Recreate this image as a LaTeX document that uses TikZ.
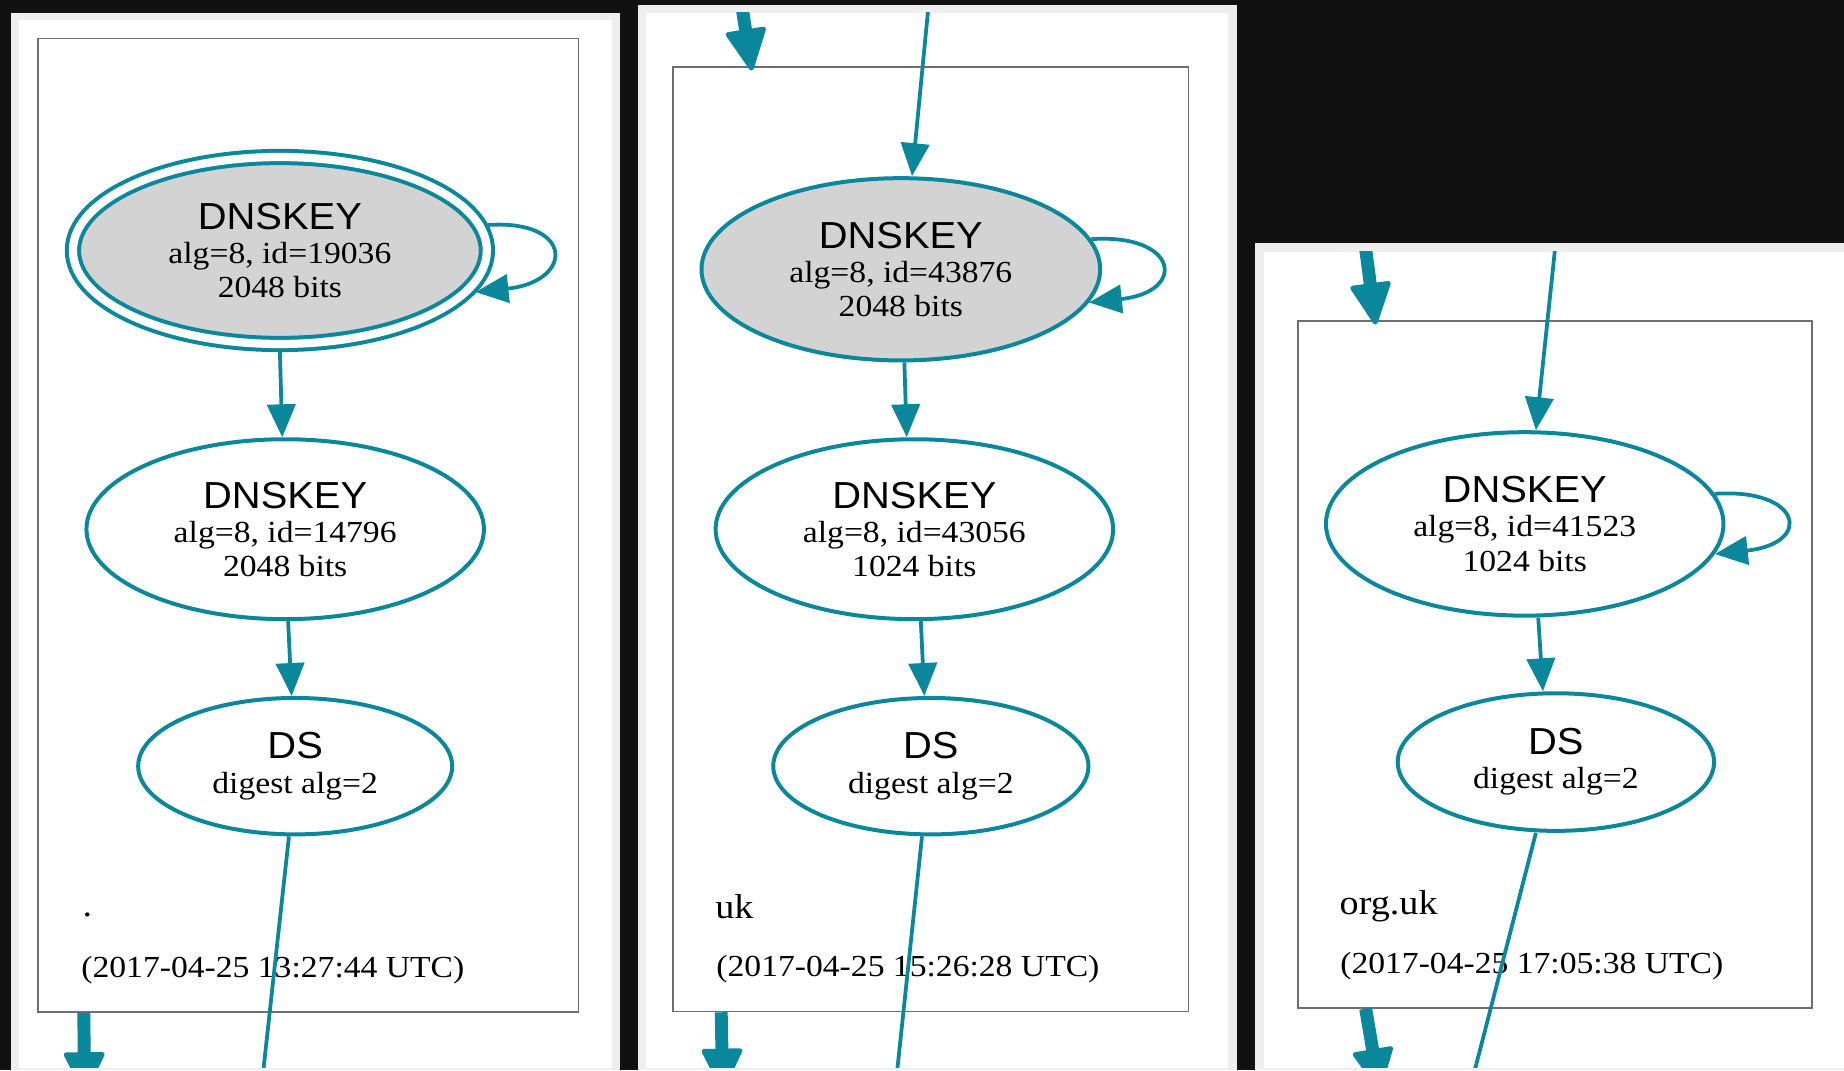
\documentclass[tikz,border=0pt]{standalone}
\usepackage{fontspec}
\setmainfont[FakeStretch=1.1]{Liberation Serif}
\newfontfamily\dnssans[FakeStretch=1.06]{Liberation Sans}
\usetikzlibrary{arrows.meta,shapes.geometric,calc}
\definecolor{bgdark}{HTML}{111111}
\definecolor{panelgrey}{HTML}{EEEEEE}
\definecolor{secure}{HTML}{0A879A}
\definecolor{keyfill}{HTML}{D3D3D3}
\definecolor{boxline}{HTML}{6E6E6E}
\newcommand{\kname}[1]{{\dnssans\fontsize{32}{29}\selectfont #1}}
\begin{document}
\begin{tikzpicture}[x=1pt,y=-1pt,
  key/.style={ellipse, draw=secure, line width=3.4pt, inner sep=0pt, align=center,
    font=\fontsize{26}{29}\selectfont},
  ksk/.style={key, fill=keyfill},
  zonebox/.style={draw=boxline, line width=1.5pt, inner sep=0pt},
  edge/.style={draw=secure, line width=3.2pt, -{Triangle[length=28pt,width=24pt]}},
  plainedge/.style={draw=secure, line width=3.2pt},
  bigedge/.style={draw=secure, line width=11pt, -{Triangle[length=38pt,width=36pt,round,line width=4pt]}},
  zlabel/.style={anchor=base west, inner sep=0pt, font=\fontsize{26}{29}\selectfont},
  zname/.style={anchor=base west, inner sep=0pt, font=\fontsize{29.5}{32}\selectfont}
]
\fill[bgdark] (0,0) rectangle (1568,910);
\useasboundingbox (0,0) rectangle (1568,910);
% panels
\fill[panelgrey] (9.5,11) rectangle (527,910);
\fill[white] (16.5,17) rectangle (520.5,908);
\fill[panelgrey] (542.5,4.3) rectangle (1052,910);
\fill[white] (549.5,10.8) rectangle (1044.5,908);
\fill[panelgrey] (1067.5,207) rectangle (1568,910);
\fill[white] (1074.5,214) rectangle (1568,908);

% ---------- panel 1: root ----------
\node[zonebox, minimum width=459.5pt, minimum height=828pt] (b1) at (262.25,446.7) {};
\node[ksk, double=white, double distance=7pt, outer sep=6.5pt,
      minimum width=352pt, minimum height=159pt] (e1) at (238,213)
  {\kname{DNSKEY}\\alg=8, id=19036\\2048 bits};
\node[key, minimum width=338pt, minimum height=153pt] (e2) at (242.5,450)
  {\kname{DNSKEY}\\alg=8, id=14796\\2048 bits};
\node[key, minimum width=267pt, minimum height=116pt] (e3) at (251,651.5)
  {\kname{DS}\\digest alg=2};
\node[zname] (n1) at (70,779.5) {.};
\node[zlabel] (t1) at (69,831.5) {(2017-04-25 13:27:44 UTC)};
\begin{scope}
  \clip (16.5,17) rectangle (520.5,908);
  \coordinate (out1) at (221.2,935);
  \coordinate (down1) at (72,930);
  \draw[edge] (e1.south) -- ([xshift=-2.5pt]e2.north);
  \draw[edge] ([xshift=2.5pt]e2.south) -- ([xshift=-3pt]e3.north);
  \draw[edge] (e1.7) .. controls +(74,-5) and +(84,-9) .. (e1.-12);
  \draw[plainedge] ([xshift=-5.3pt]e3.south) -- (out1);
  \draw[bigedge] ([xshift=39.5pt]b1.south west) -- (down1);
\end{scope}

% ---------- panel 2: uk ----------
\node[zonebox, minimum width=438pt, minimum height=803.3pt] (b2) at (791.5,458.35) {};
\node[ksk, minimum width=339pt, minimum height=155pt] (e4) at (766,229)
  {\kname{DNSKEY}\\alg=8, id=43876\\2048 bits};
\node[key, minimum width=338pt, minimum height=153pt] (e5) at (777.5,450)
  {\kname{DNSKEY}\\alg=8, id=43056\\1024 bits};
\node[key, minimum width=268pt, minimum height=116pt] (e6) at (791.5,651.5)
  {\kname{DS}\\digest alg=2};
\node[zname] (n2) at (608,781) {uk};
\node[zlabel] (t2) at (609,830.5) {(2017-04-25 15:26:28 UTC)};
\begin{scope}
  \clip (549.5,10.8) rectangle (1044.5,908);
  \coordinate (in2) at (790,0);
  \coordinate (top2) at (628.5,-10);
  \coordinate (out2) at (760.3,935);
  \coordinate (down2) at (614.5,927);
  \draw[edge] (in2) -- ([xshift=9.5pt]e4.north);
  \draw[edge] ([xshift=3pt]e4.south) -- ([xshift=-6.5pt]e5.north);
  \draw[edge] ([xshift=5.5pt]e5.south) -- ([xshift=-5.5pt]e6.north);
  \draw[edge] (e4.9) .. controls +(74,-5) and +(84,-9) .. (e4.-10);
  \draw[plainedge] ([xshift=-7.5pt]e6.south) -- (out2);
  \draw[bigedge] (top2) -- ([xshift=67.5pt,yshift=-4pt]b2.north west);
  \draw[bigedge] ([xshift=41.5pt]b2.south west) -- (down2);
\end{scope}

% ---------- panel 3: org.uk ----------
\node[zonebox, minimum width=437.5pt, minimum height=584.3pt] (b3) at (1322.25,564.85) {};
\node[key, minimum width=338pt, minimum height=156pt] (e7) at (1296.5,445.5)
  {\kname{DNSKEY}\\alg=8, id=41523\\1024 bits};
\node[key, minimum width=269pt, minimum height=117pt] (e8) at (1323,648)
  {\kname{DS}\\digest alg=2};
\node[zname] (n3) at (1139,778) {org.uk};
\node[zlabel] (t3) at (1139.5,827.5) {(2017-04-25 17:05:38 UTC)};
\begin{scope}
  \clip (1074.5,214) rectangle (1568,908);
  \coordinate (in3) at (1323.5,200);
  \coordinate (top3) at (1159,195);
  \coordinate (out3) at (1247.6,935);
  \coordinate (down3) at (1173,927);
  \draw[edge] (in3) -- ([xshift=9.5pt]e7.north);
  \draw[edge] ([xshift=11.5pt]e7.south) -- ([xshift=-11pt]e8.north);
  \draw[edge] (e7.9) .. controls +(74,-5) and +(84,-9) .. (e7.-9);
  \draw[plainedge] ([xshift=-17pt]e8.south) -- (out3);
  \draw[bigedge] (top3) -- ([xshift=67pt,yshift=-4pt]b3.north west);
  \draw[bigedge] ([xshift=58.5pt]b3.south west) -- (down3);
\end{scope}
\end{tikzpicture}
\end{document}
